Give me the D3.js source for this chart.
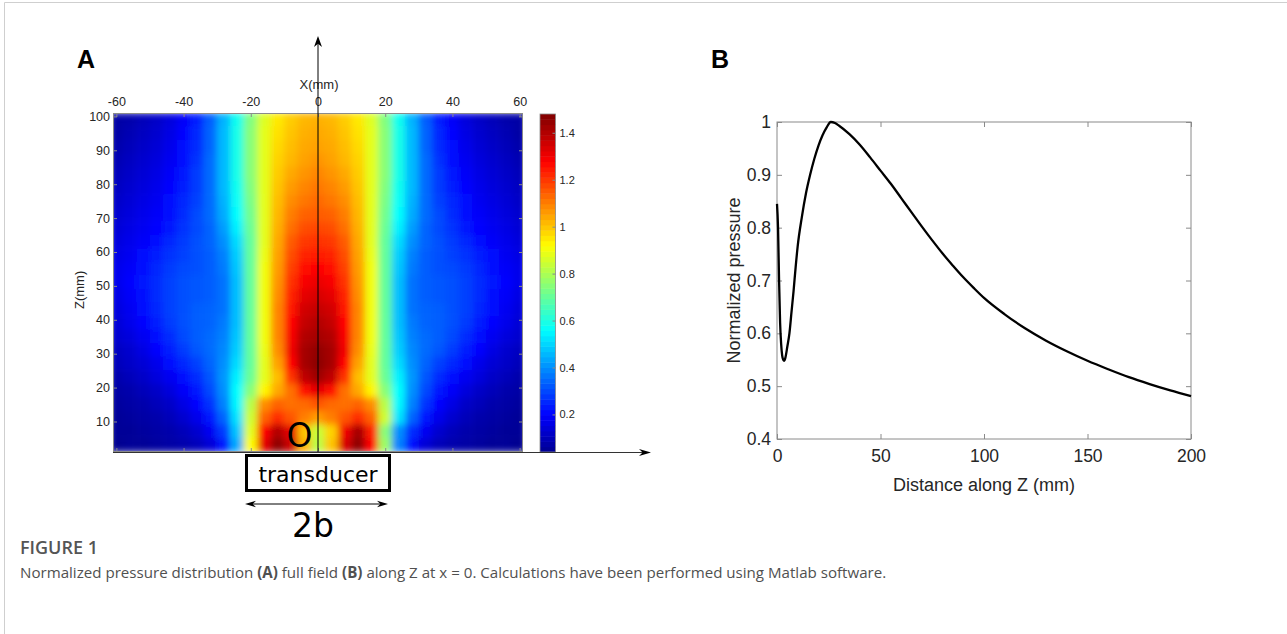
<!DOCTYPE html>
<html><head><meta charset="utf-8">
<script src="https://cdn.jsdelivr.net/npm/d3@7"></script>
<style>
html,body{margin:0;padding:0;background:#fff;}
svg{display:block;}
</style></head>
<body>
<svg id="fig" width="1287" height="634"></svg>
<script>
// ---------------- DATA ----------------
// Panel A: field grid (x in mm, z in mm), values = normalized pressure
const fieldX = [-60,-56,-52,-48,-44,-40,-36,-32,-28,-24,-20,-16,-12,-8,-4,0,4,8,12,16,20,24,28,32,36,40,44,48,52,56,60];
const fieldZ = [99,95,91,87,83,79,75,71,67,63,59,55,51,47,43,39,35,31,27,23,19,15,11,7,3];
const fieldValues = [
[0.07,0.08,0.10,0.12,0.15,0.19,0.24,0.33,0.45,0.58,0.74,0.87,0.95,0.99,1.02,1.03,1.02,0.99,0.95,0.87,0.74,0.58,0.45,0.33,0.24,0.19,0.15,0.12,0.10,0.08,0.07],
[0.07,0.09,0.11,0.13,0.16,0.20,0.25,0.34,0.46,0.59,0.75,0.88,0.96,1.00,1.03,1.04,1.03,1.00,0.96,0.88,0.75,0.59,0.46,0.34,0.25,0.20,0.16,0.13,0.11,0.09,0.07],
[0.08,0.10,0.12,0.14,0.17,0.21,0.26,0.34,0.46,0.59,0.75,0.88,0.97,1.01,1.04,1.05,1.04,1.01,0.97,0.88,0.75,0.59,0.46,0.34,0.26,0.21,0.17,0.14,0.12,0.10,0.08],
[0.09,0.11,0.13,0.15,0.18,0.22,0.27,0.35,0.46,0.59,0.75,0.88,0.98,1.02,1.05,1.07,1.05,1.02,0.98,0.88,0.75,0.59,0.46,0.35,0.27,0.22,0.18,0.15,0.13,0.11,0.09],
[0.10,0.12,0.14,0.16,0.19,0.23,0.28,0.35,0.46,0.59,0.75,0.88,0.99,1.04,1.07,1.09,1.07,1.04,0.99,0.88,0.75,0.59,0.46,0.35,0.28,0.23,0.19,0.16,0.14,0.12,0.10],
[0.11,0.13,0.15,0.17,0.20,0.24,0.28,0.35,0.46,0.58,0.74,0.88,1.00,1.06,1.09,1.11,1.09,1.06,1.00,0.88,0.74,0.58,0.46,0.35,0.28,0.24,0.20,0.17,0.15,0.13,0.11],
[0.12,0.14,0.16,0.18,0.21,0.25,0.29,0.35,0.45,0.57,0.73,0.88,1.01,1.08,1.11,1.13,1.11,1.08,1.01,0.88,0.73,0.57,0.45,0.35,0.29,0.25,0.21,0.18,0.16,0.14,0.12],
[0.13,0.15,0.17,0.19,0.22,0.26,0.30,0.35,0.44,0.56,0.72,0.88,1.02,1.10,1.14,1.15,1.14,1.10,1.02,0.88,0.72,0.56,0.44,0.35,0.30,0.26,0.22,0.19,0.17,0.15,0.13],
[0.14,0.16,0.18,0.20,0.23,0.27,0.30,0.34,0.42,0.54,0.71,0.88,1.03,1.12,1.17,1.18,1.17,1.12,1.03,0.88,0.71,0.54,0.42,0.34,0.30,0.27,0.23,0.20,0.18,0.16,0.14],
[0.15,0.17,0.19,0.22,0.25,0.28,0.31,0.34,0.40,0.51,0.70,0.88,1.04,1.15,1.20,1.21,1.20,1.15,1.04,0.88,0.70,0.51,0.40,0.34,0.31,0.28,0.25,0.22,0.19,0.17,0.15],
[0.16,0.18,0.21,0.24,0.27,0.29,0.31,0.33,0.38,0.49,0.70,0.89,1.05,1.17,1.23,1.24,1.23,1.17,1.05,0.89,0.70,0.49,0.38,0.33,0.31,0.29,0.27,0.24,0.21,0.18,0.16],
[0.17,0.19,0.22,0.25,0.28,0.30,0.31,0.33,0.37,0.48,0.70,0.90,1.06,1.19,1.26,1.28,1.26,1.19,1.06,0.90,0.70,0.48,0.37,0.33,0.31,0.30,0.28,0.25,0.22,0.19,0.17],
[0.17,0.20,0.23,0.26,0.29,0.31,0.32,0.33,0.36,0.47,0.70,0.90,1.07,1.21,1.29,1.31,1.29,1.21,1.07,0.90,0.70,0.47,0.36,0.33,0.32,0.31,0.29,0.26,0.23,0.20,0.17],
[0.16,0.19,0.22,0.26,0.29,0.31,0.32,0.33,0.36,0.47,0.70,0.90,1.08,1.23,1.32,1.34,1.32,1.23,1.08,0.90,0.70,0.47,0.36,0.33,0.32,0.31,0.29,0.26,0.22,0.19,0.16],
[0.15,0.18,0.21,0.25,0.29,0.31,0.33,0.34,0.36,0.47,0.70,0.90,1.09,1.25,1.35,1.37,1.35,1.25,1.09,0.90,0.70,0.47,0.36,0.34,0.33,0.31,0.29,0.25,0.21,0.18,0.15],
[0.14,0.17,0.20,0.24,0.28,0.31,0.33,0.34,0.37,0.47,0.70,0.90,1.09,1.27,1.37,1.40,1.37,1.27,1.09,0.90,0.70,0.47,0.37,0.34,0.33,0.31,0.28,0.24,0.20,0.17,0.14],
[0.13,0.15,0.18,0.22,0.26,0.30,0.33,0.35,0.38,0.48,0.70,0.90,1.09,1.29,1.40,1.42,1.40,1.29,1.09,0.90,0.70,0.48,0.38,0.35,0.33,0.30,0.26,0.22,0.18,0.15,0.13],
[0.11,0.13,0.16,0.20,0.24,0.28,0.32,0.35,0.39,0.49,0.70,0.89,1.08,1.30,1.42,1.45,1.42,1.30,1.08,0.89,0.70,0.49,0.39,0.35,0.32,0.28,0.24,0.20,0.16,0.13,0.11],
[0.10,0.12,0.14,0.17,0.21,0.25,0.29,0.34,0.40,0.51,0.70,0.88,1.05,1.27,1.42,1.46,1.42,1.27,1.05,0.88,0.70,0.51,0.40,0.34,0.29,0.25,0.21,0.17,0.14,0.12,0.10],
[0.08,0.10,0.12,0.15,0.18,0.22,0.26,0.32,0.41,0.54,0.71,0.88,1.01,1.21,1.38,1.43,1.38,1.21,1.01,0.88,0.71,0.54,0.41,0.32,0.26,0.22,0.18,0.15,0.12,0.10,0.08],
[0.07,0.08,0.10,0.12,0.15,0.19,0.23,0.30,0.40,0.56,0.75,0.93,1.04,1.12,1.26,1.32,1.26,1.12,1.04,0.93,0.75,0.56,0.40,0.30,0.23,0.19,0.15,0.12,0.10,0.08,0.07],
[0.06,0.07,0.08,0.10,0.12,0.16,0.20,0.27,0.38,0.55,0.82,1.08,1.14,1.12,1.13,1.16,1.13,1.12,1.14,1.08,0.82,0.55,0.38,0.27,0.20,0.16,0.12,0.10,0.08,0.07,0.06],
[0.05,0.06,0.07,0.08,0.10,0.13,0.17,0.23,0.34,0.52,0.85,1.14,1.22,1.16,1.10,1.06,1.10,1.16,1.22,1.14,0.85,0.52,0.34,0.23,0.17,0.13,0.10,0.08,0.07,0.06,0.05],
[0.05,0.05,0.06,0.07,0.08,0.10,0.13,0.18,0.28,0.48,0.88,1.28,1.40,1.32,1.00,0.84,0.98,1.30,1.42,1.24,0.75,0.40,0.26,0.18,0.13,0.10,0.08,0.07,0.06,0.05,0.05],
[0.04,0.05,0.05,0.06,0.07,0.08,0.10,0.14,0.23,0.44,0.92,1.32,1.46,1.36,1.03,0.82,1.00,1.34,1.46,1.28,0.78,0.38,0.22,0.14,0.10,0.08,0.07,0.06,0.05,0.05,0.04]
];
const xTicksA = [-60,-40,-20,0,20,40,60];
const zTicksA = [10,20,30,40,50,60,70,80,90,100];
const colorTicks = [0.2,0.4,0.6,0.8,1,1.2,1.4];
const colorRange = [0.04,1.48];
// Jet colormap stops
const jetStops = [0,0.11,0.36,0.61,0.86,1];
const jetColors = ["#000090","#0000ff","#00ffff","#ffff00","#ff0000","#800000"];

// Panel B: on-axis pressure
const distZ = [0,0.5,1,1.5,2,2.5,3,3.5,4,5,6,7,8,9,10,12,14,16,18,20,22,24,26,28,30,35,40,45,50,55,60,65,70,75,80,85,90,95,100,110,120,130,140,150,160,170,180,190,200];
const pressure = [0.845,0.80,0.70,0.62,0.58,0.558,0.55,0.548,0.553,0.575,0.60,0.64,0.68,0.725,0.765,0.82,0.865,0.90,0.93,0.955,0.975,0.99,1.0,0.998,0.993,0.977,0.957,0.933,0.908,0.883,0.856,0.829,0.802,0.776,0.751,0.728,0.706,0.686,0.667,0.636,0.609,0.586,0.566,0.548,0.532,0.517,0.504,0.492,0.481];
const xTicksB = [0,50,100,150,200];
const yTicksB = [0.4,0.5,0.6,0.7,0.8,0.9,1];

const captionTitle = "FIGURE 1";
const captionParts = [["Normalized pressure distribution ",false],["(A)",true],[" full field ",false],["(B)",true],[" along Z at x = 0. Calculations have been performed using Matlab software.",false]];

// ---------------- DRAW ----------------
const svg = d3.select("#fig");
const axisFont = "'Liberation Sans', Arial, Helvetica, sans-serif";
const axisCol = "#262626";
const boxCol = "#8a8a8a";

// outer card border
svg.append("path").attr("d","M4.5,634 L4.5,2.5 L1287,2.5").attr("fill","none").attr("stroke","#cfcfcf").attr("stroke-width",1);

const defs = svg.append("defs");

// ---- Panel A ----
const xA = d3.scaleLinear().domain([-61,61]).range([113,523]);
const zA = d3.scaleLinear().domain([1,101]).range([452,113]);
const jet = d3.scaleLinear().domain(jetStops.map(t=>colorRange[0]+t*(colorRange[1]-colorRange[0]))).range(jetColors).clamp(true);

defs.append("clipPath").attr("id","clipA").append("rect")
  .attr("x",xA(-61)).attr("y",zA(101)).attr("width",xA(61)-xA(-61)).attr("height",zA(1)-zA(101));
const blur = defs.append("filter").attr("id","smooth").attr("x",0).attr("y",0).attr("width",1).attr("height",1);
blur.append("feGaussianBlur").attr("stdDeviation",3.6).attr("edgeMode","duplicate");

const heat = svg.append("g").attr("clip-path","url(#clipA)").append("g").attr("filter","url(#smooth)");
const dx = 4, dz = 4;
fieldValues.forEach((row,i)=>{
  row.forEach((v,j)=>{
    const x0 = xA(fieldX[j]-dx/2), x1 = xA(fieldX[j]+dx/2);
    const y0 = zA(fieldZ[i]+dz/2), y1 = zA(fieldZ[i]-dz/2);
    heat.append("rect").attr("x",x0-0.3).attr("y",y0-0.3).attr("width",x1-x0+0.6).attr("height",y1-y0+0.6).attr("fill",jet(v));
  });
});

// box for A
const gA = svg.append("g");
gA.append("rect").attr("x",xA(-61)+0.5).attr("y",zA(101)+0.5).attr("width",xA(61)-xA(-61)-1).attr("height",zA(1)-zA(101)-1)
  .attr("fill","none").attr("stroke",boxCol).attr("stroke-width",1);
const plain = d=>String(d);
const topA = svg.append("g").attr("transform",`translate(0,${zA(101)})`)
  .call(d3.axisTop(xA).tickValues(xTicksA).tickSizeInner(-4).tickSizeOuter(0).tickPadding(7).tickFormat(plain));
const leftA = svg.append("g").attr("transform",`translate(${xA(-61)},0)`)
  .call(d3.axisLeft(zA).tickValues(zTicksA).tickSizeInner(-4).tickSizeOuter(0).tickPadding(3).tickFormat(plain));
const botA = svg.append("g").attr("transform",`translate(0,${zA(1)})`)
  .call(d3.axisBottom(xA).tickValues(xTicksA).tickSizeInner(-4).tickSizeOuter(0).tickFormat(""));
const rightA = svg.append("g").attr("transform",`translate(${xA(61)},0)`)
  .call(d3.axisRight(zA).tickValues(zTicksA).tickSizeInner(-4).tickSizeOuter(0).tickFormat(""));
[topA,leftA,botA,rightA].forEach(g=>{
  g.select(".domain").remove();
  g.selectAll(".tick line").attr("stroke",boxCol);
  g.selectAll("text").attr("font-family",axisFont).attr("font-size",12.5).attr("fill",axisCol);
});

svg.append("text").attr("x",xA(0)+1).attr("y",89).attr("text-anchor","middle")
  .attr("font-family",axisFont).attr("font-size",13).attr("fill",axisCol).text("X(mm)");
svg.append("text").attr("transform",`translate(84,${zA(50)+4}) rotate(-90)`).attr("text-anchor","middle")
  .attr("font-family",axisFont).attr("font-size",13).attr("fill",axisCol).text("Z(mm)");

// colorbar
const cY = d3.scaleLinear().domain(colorRange).range([452,114]);
const nBands = 64;
const gC = svg.append("g");
d3.range(nBands).forEach(k=>{
  const v0 = colorRange[0] + k*(colorRange[1]-colorRange[0])/nBands;
  const v1 = colorRange[0] + (k+1)*(colorRange[1]-colorRange[0])/nBands;
  gC.append("rect").attr("x",540).attr("width",15.5).attr("y",cY(v1)).attr("height",cY(v0)-cY(v1)+0.5)
    .attr("fill",jet((v0+v1)/2));
});
gC.append("rect").attr("x",540).attr("y",cY(colorRange[1])).attr("width",15.5).attr("height",cY(colorRange[0])-cY(colorRange[1]))
  .attr("fill","none").attr("stroke",boxCol).attr("stroke-width",0.8);
const cAx = svg.append("g").attr("transform","translate(555.5,0)")
  .call(d3.axisRight(cY).tickValues(colorTicks).tickSizeInner(-3).tickSizeOuter(0).tickPadding(4).tickFormat(d3.format("~g")));
cAx.select(".domain").remove();
cAx.selectAll(".tick line").attr("stroke",boxCol);
cAx.selectAll("text").attr("font-family",axisFont).attr("font-size",11).attr("fill",axisCol);

// annotation axes (arrows)
function arrowHead(g, tipX, tipY, ang, len, half){
  const a = ang*Math.PI/180;
  const ux = Math.cos(a), uy = Math.sin(a);
  const px = -uy, py = ux;
  const bx = tipX - ux*len, by = tipY - uy*len;
  const nx = tipX - ux*len*0.7, ny = tipY - uy*len*0.7;
  g.append("path").attr("d",`M${tipX},${tipY} L${bx+px*half},${by+py*half} L${nx},${ny} L${bx-px*half},${by-py*half} Z`).attr("fill","#000");
}
const ann = svg.append("g");
const x0px = xA(0);
ann.append("line").attr("x1",x0px).attr("x2",x0px).attr("y1",zA(1)).attr("y2",40).attr("stroke","#000").attr("stroke-width",1);
arrowHead(ann, x0px, 36, -90, 11, 4);
ann.append("line").attr("x1",xA(-61)).attr("x2",647).attr("y1",zA(1)+0.5).attr("y2",zA(1)+0.5).attr("stroke","#333").attr("stroke-width",1);
arrowHead(ann, 651, zA(1)+0.5, 0, 12, 3.5);

ann.append("text").attr("x",299.5).attr("y",447).attr("text-anchor","middle")
  .attr("font-family","'DejaVu Sans', Verdana, sans-serif").attr("font-size",33).attr("fill","#000").text("O");

ann.append("rect").attr("x",246.5).attr("y",455.5).attr("width",143).attr("height",35)
  .attr("fill","#fff").attr("stroke","#000").attr("stroke-width",3);
ann.append("text").attr("x",318).attr("y",482).attr("text-anchor","middle")
  .attr("font-family","'DejaVu Sans', Verdana, sans-serif").attr("font-size",22).attr("fill","#000").text("transducer");
ann.append("line").attr("x1",250).attr("x2",383).attr("y1",504).attr("y2",504).attr("stroke","#000").attr("stroke-width",1);
arrowHead(ann, 245, 504, 180, 11, 3.2);
arrowHead(ann, 388, 504, 0, 11, 3.2);
ann.append("text").attr("x",313).attr("y",537).attr("text-anchor","middle")
  .attr("font-family","'DejaVu Sans', Verdana, sans-serif").attr("font-size",33).attr("fill","#000").text("2b");

// panel letters
svg.append("text").attr("x",77).attr("y",68).attr("font-family",axisFont).attr("font-weight","bold").attr("font-size",25).attr("fill","#000").text("A");
svg.append("text").attr("x",711).attr("y",68).attr("font-family",axisFont).attr("font-weight","bold").attr("font-size",25).attr("fill","#000").text("B");

// ---- Panel B ----
const xB = d3.scaleLinear().domain([0,200]).range([777,1191]);
const yB = d3.scaleLinear().domain([0.4,1]).range([439,122]);
const gB = svg.append("g");
gB.append("rect").attr("x",xB(0)).attr("y",yB(1)).attr("width",xB(200)-xB(0)).attr("height",yB(0.4)-yB(1))
  .attr("fill","none").attr("stroke",boxCol).attr("stroke-width",1);
const bAx = gB.append("g").attr("transform",`translate(0,${yB(0.4)})`)
  .call(d3.axisBottom(xB).tickValues(xTicksB).tickSizeInner(-5).tickSizeOuter(0).tickPadding(11));
const lAx = gB.append("g").attr("transform",`translate(${xB(0)},0)`)
  .call(d3.axisLeft(yB).tickValues(yTicksB).tickSizeInner(-5).tickSizeOuter(0).tickPadding(6).tickFormat(d3.format("~g")));
const tAx = gB.append("g").attr("transform",`translate(0,${yB(1)})`)
  .call(d3.axisTop(xB).tickValues(xTicksB).tickSizeInner(-5).tickSizeOuter(0).tickFormat(""));
const rAx = gB.append("g").attr("transform",`translate(${xB(200)},0)`)
  .call(d3.axisRight(yB).tickValues(yTicksB).tickSizeInner(-5).tickSizeOuter(0).tickFormat(""));
[bAx,lAx,tAx,rAx].forEach(g=>{
  g.select(".domain").remove();
  g.selectAll(".tick line").attr("stroke",boxCol);
  g.selectAll("text").attr("font-family",axisFont).attr("font-size",17.5).attr("fill",axisCol);
});
gB.append("path").datum(distZ.map((d,i)=>[d,pressure[i]]))
  .attr("d",d3.line().x(d=>xB(d[0])).y(d=>yB(d[1])).curve(d3.curveMonotoneX))
  .attr("fill","none").attr("stroke","#000").attr("stroke-width",2.3).attr("stroke-linejoin","round");
gB.append("text").attr("x",(xB(0)+xB(200))/2).attr("y",491).attr("text-anchor","middle")
  .attr("font-family",axisFont).attr("font-size",18).attr("fill",axisCol).text("Distance along Z (mm)");
gB.append("text").attr("transform",`translate(740,${(yB(0.4)+yB(1))/2}) rotate(-90)`).attr("text-anchor","middle")
  .attr("font-family",axisFont).attr("font-size",18).attr("fill",axisCol).text("Normalized pressure");

// ---- Caption ----
const capFont = "'Open Sans', 'Liberation Sans', sans-serif";
const t1 = svg.append("text").attr("x",20).attr("y",554).attr("font-family",capFont).attr("font-size",18)
  .attr("font-weight",600).attr("fill","#555").text(captionTitle);
const w1 = t1.node().getComputedTextLength();
t1.attr("font-size", 18*78/w1);
const cap = svg.append("text").attr("x",20).attr("y",578).attr("font-family",capFont).attr("font-size",16).attr("fill","#505050");
captionParts.forEach(p=>{
  cap.append("tspan").attr("font-weight",p[1]?"bold":"normal").text(p[0]);
});
const w2 = cap.node().getComputedTextLength();
cap.attr("font-size", 16*867/w2);
</script>
</body></html>
